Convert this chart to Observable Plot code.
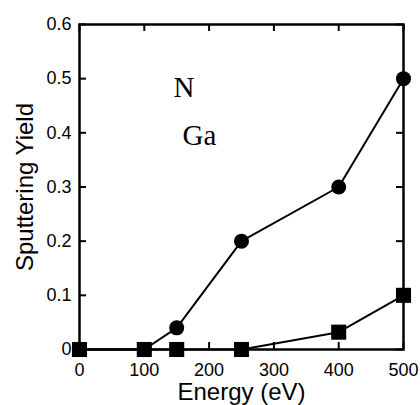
<!DOCTYPE html>
<html>
<head>
<meta charset="utf-8">
<script src="https://cdn.jsdelivr.net/npm/d3@7"></script>
<script src="https://cdn.jsdelivr.net/npm/@observablehq/plot@0.6"></script>
<style>
  html, body { margin: 0; padding: 0; background: #fff; }
</style>
</head>
<body>
<div id="chart"></div>
<script>
// Data
const energy = [0, 100, 150, 250, 400, 500];
const yieldN = [0, 0, 0.04, 0.2, 0.3, 0.5];
const yieldGa = [0, 0, 0, 0, 0.032, 0.1];
const xTicks = [0, 100, 200, 300, 400, 500];
const yTicks = [0, 0.1, 0.2, 0.3, 0.4, 0.5, 0.6];
const yTickLabels = ["0", "0.1", "0.2", "0.3", "0.4", "0.5", "0.6"];
const labelNames = ["N", "Ga"];
const labelX = [145, 159];
const labelY = [0.484, 0.395];
const xTitle = "Energy (eV)";
const yTitle = "Sputtering Yield";

const seriesN = energy.map((e, i) => ({x: e, y: yieldN[i]}));
const seriesGa = energy.map((e, i) => ({x: e, y: yieldGa[i]}));
const labels = labelNames.map((t, i) => ({t, x: labelX[i], y: labelY[i]}));
const yTickData = yTicks.map((v, i) => ({v, t: yTickLabels[i]}));

const W = 420, H = 405;
const mL = 79, mR = 17, mT = 24, mB = 56;
const innerW = W - mL - mR, innerH = H - mT - mB;
const tk = 7;
const sans = "'Liberation Sans', Arial, sans-serif";

const chart = Plot.plot({
  width: W,
  height: H,
  marginLeft: mL,
  marginRight: mR,
  marginTop: mT,
  marginBottom: mB,
  style: {fontFamily: sans, fontSize: "18px", background: "#fff", color: "#000", overflow: "visible"},
  x: {domain: [0, 500], axis: null},
  y: {domain: [0, 0.6], axis: null},
  marks: [
    // tick labels
    Plot.text(xTicks, {x: d => d, text: d => String(d), frameAnchor: "bottom", textAnchor: "middle",
      lineAnchor: "top", dy: 14, fontSize: 18, fontFamily: sans, fill: "#000"}),
    Plot.text(yTickData, {y: "v", text: "t", frameAnchor: "left", textAnchor: "end",
      lineAnchor: "middle", dx: -8, fontSize: 18, fontFamily: sans, fill: "#000"}),
    // axis titles
    Plot.text([xTitle], {text: d => d, frameAnchor: "bottom", textAnchor: "middle", lineAnchor: "middle", dy: 43,
      fontSize: 24, fontFamily: sans, fill: "#000"}),
    Plot.text([yTitle], {text: d => d, frameAnchor: "left", textAnchor: "middle", lineAnchor: "middle", rotate: -90, dx: -54,
      fontSize: 24, fontFamily: sans, fill: "#000"}),
    // inward ticks
    Plot.tickX(xTicks, {x: d => d, insetTop: innerH - tk, stroke: "#000", strokeWidth: 2}),
    Plot.tickX(xTicks, {x: d => d, insetBottom: innerH - tk, stroke: "#000", strokeWidth: 2}),
    Plot.tickY(yTicks, {y: d => d, insetRight: innerW - tk, stroke: "#000", strokeWidth: 2}),
    Plot.tickY(yTicks, {y: d => d, insetLeft: innerW - tk, stroke: "#000", strokeWidth: 2}),
    Plot.frame({stroke: "#000", strokeWidth: 2.5}),
    Plot.line(seriesN, {x: "x", y: "y", stroke: "#000", strokeWidth: 2}),
    Plot.line(seriesGa, {x: "x", y: "y", stroke: "#000", strokeWidth: 2}),
    Plot.dot(seriesN, {x: "x", y: "y", r: 7.5, fill: "#000", symbol: "circle"}),
    Plot.dot(seriesGa, {x: "x", y: "y", r: 8.5, fill: "#000", symbol: "square"}),
    Plot.text(labels, {x: "x", y: "y", text: "t", textAnchor: "start", lineAnchor: "middle",
      fontSize: 29, fontFamily: "'Liberation Serif', 'Times New Roman', serif", fill: "#000"})
  ]
});
document.getElementById("chart").appendChild(chart);
</script>
</body>
</html>
